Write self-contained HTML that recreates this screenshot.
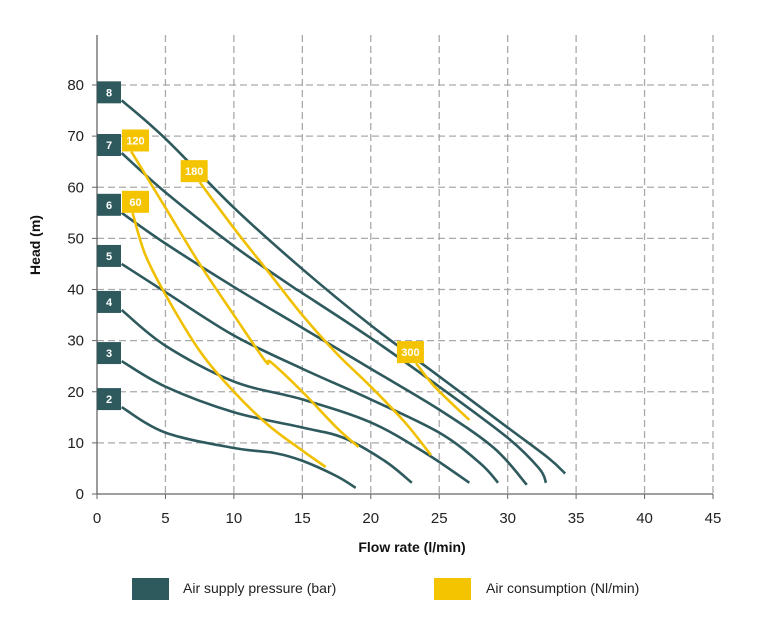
<!DOCTYPE html>
<html><head><meta charset="utf-8"><style>
body{margin:0;background:#fff;}
svg{display:block;font-family:"Liberation Sans",Arial,sans-serif;}
</style></head><body>
<svg id="chart" width="768" height="624" viewBox="0 0 768 624">
<g id="grid"></g>
<g id="axes"></g>
<g id="curves"></g>
<g id="labels"></g>
<text x="412" y="552" text-anchor="middle" font-size="14" font-weight="bold" fill="#111">Flow rate (l/min)</text>
<text x="40" y="245" text-anchor="middle" font-size="14" font-weight="bold" fill="#111" transform="rotate(-90 40 245)">Head (m)</text>
<g>
<rect x="132" y="578" width="37" height="22" fill="#2e5a5e"/>
<text x="183" y="593" font-size="14" fill="#222">Air supply pressure (bar)</text>
<rect x="434" y="578" width="37" height="22" fill="#f5c400"/>
<text x="486" y="593" font-size="14" fill="#222">Air consumption (Nl/min)</text>
</g>
</svg>
<script>
const xTicks=[0,5,10,15,20,25,30,35,40,45];
const yTicks=[0,10,20,30,40,50,60,70,80];
const pressureNames=["8","7","6","5","4","3","2"];
const p8=[[1.8,77],[5,69.5],[10,56],[15,44],[20,33],[25,23],[30,13],[33,7],[34.2,4]];
const p7=[[1.8,66.7],[5,59],[10,48.5],[14.3,40.5],[15,39.3],[20,30.5],[25,21],[30,11],[32.3,5],[32.8,2.2]];
const p6=[[1.8,55],[5,49],[10,40.5],[15,32.5],[20,24.5],[25,16.5],[29,9],[31.4,1.8]];
const p5=[[1.8,45],[5,39.5],[10,31],[15,24.5],[20,18.5],[25,12],[28,6],[29.3,2.2]];
const p4=[[1.8,36],[5,29],[10,22],[15,18.5],[20,14],[24,8],[27.2,2.2]];
const p3=[[1.8,26],[5,21],[10,16],[15,13],[18,11],[21,6.5],[23,2.2]];
const p2=[[1.8,17],[5,12],[10,9],[13,8],[15,6.5],[17.5,3.5],[18.9,1.2]];
const consumptionNames=["60","120","180","300"];
const c60=[[2.6,55],[3.5,47],[5,39],[7.5,28],[10,20],[12.5,13.5],[15,8.5],[16.7,5.3]];
const c120=[[2.5,67],[5,56],[7.5,45],[10,35],[12.3,26],[12.7,25.8],[15,20],[17.5,13],[19.1,9.2]];
const c180=[[7.5,61],[10,52],[12.5,43.5],[15,35],[17.5,27.5],[20,21],[22.5,14],[24.4,7.6]];
const c300=[[23.3,25.6],[24.5,21.5],[26,17.5],[27.2,14.5]];

const NS="http://www.w3.org/2000/svg";
const X=v=>97+v*(616/45);
const Y=v=>494-v*(409/80);
function mk(tag,attrs,parent){const e=document.createElementNS(NS,tag);for(const k in attrs)e.setAttribute(k,attrs[k]);parent.appendChild(e);return e;}
const grid=document.getElementById('grid'),axes=document.getElementById('axes'),curves=document.getElementById('curves'),labels=document.getElementById('labels');
xTicks.forEach(t=>{
  if(t>0){const l=mk('line',{x1:X(t),x2:X(t),y1:35,y2:494,stroke:'#aaa','stroke-width':1.3,'stroke-dasharray':'7 4'},grid);
  }
  const tk=mk('line',{x1:X(t),x2:X(t),y1:494,y2:499,stroke:'#666'},axes);
  
  const tx=mk('text',{x:X(t),y:523,'text-anchor':'middle','font-size':15,fill:'#222'},axes);tx.textContent=t;
  
});
yTicks.forEach(t=>{
  if(t>0){const l=mk('line',{x1:97,x2:713,y1:Y(t),y2:Y(t),stroke:'#aaa','stroke-width':1.3,'stroke-dasharray':'7 4'},grid);
  }
  const tk=mk('line',{x1:92,x2:97,y1:Y(t),y2:Y(t),stroke:'#666'},axes);
  
  const tx=mk('text',{x:84,y:Y(t)+5,'text-anchor':'end','font-size':15,fill:'#222'},axes);tx.textContent=t;
  
});
const ax=mk('path',{d:`M97 35V494H713`,fill:'none',stroke:'#666','stroke-width':1.3},axes);

function smooth(pts){const p=pts.map(q=>[X(q[0]),Y(q[1])]);let d=`M${p[0][0]},${p[0][1]}`;
  for(let i=0;i<p.length-1;i++){const p0=p[i-1]||p[i],p1=p[i],p2=p[i+1],p3=p[i+2]||p2;
    d+=`C${p1[0]+(p2[0]-p0[0])/6},${p1[1]+(p2[1]-p0[1])/6} ${p2[0]-(p3[0]-p1[0])/6},${p2[1]-(p3[1]-p1[1])/6} ${p2[0]},${p2[1]}`;}
  return d;}
const pSeries=[p8,p7,p6,p5,p4,p3,p2];
pSeries.forEach((s,i)=>{
  const e=mk('path',{d:smooth(s),fill:'none',stroke:'#2e5a5e','stroke-width':2.6},curves);
  
});
const cSeries=[c60,c120,c180,c300];
cSeries.forEach((s,i)=>{
  const e=mk('path',{d:smooth(s),fill:'none',stroke:'#f0c000','stroke-width':2.6},curves);
  
});
pSeries.forEach((s,i)=>{
  const cy=Y(s[0][1])-8;
  const r=mk('rect',{x:97,y:cy-11,width:24,height:22,fill:'#2e5a5e'},labels);
  
  const t=mk('text',{x:109,y:cy+4,'text-anchor':'middle','font-size':11,'font-weight':'bold',fill:'#fff'},labels);t.textContent=pressureNames[i];
  
});
cSeries.forEach((s,i)=>{
  const cx=Math.max(X(s[0][0])-6,135),cy=Y(s[0][1])-11;
  const r=mk('rect',{x:cx-13,y:cy-11,width:27,height:22,fill:'#f5c400'},labels);
  
  const t=mk('text',{x:cx+0.5,y:cy+4,'text-anchor':'middle','font-size':11,'font-weight':'bold',fill:'#fff'},labels);t.textContent=consumptionNames[i];
  
});
</script>
</body></html>
